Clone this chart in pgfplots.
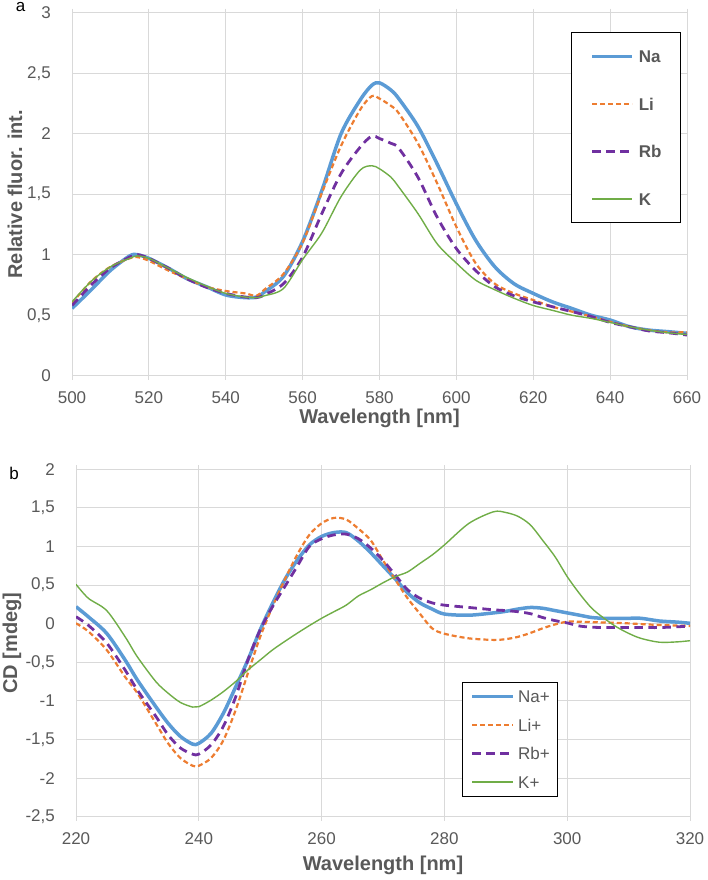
\documentclass[border=0pt]{standalone}
\usepackage{pgfplots}
\pgfplotsset{compat=1.18}
\usepackage{pgfplotstable}
\usepackage{fontspec}
\setmainfont{Liberation Sans}
\definecolor{cna}{HTML}{5B9BD5}
\definecolor{cli}{HTML}{ED7D31}
\definecolor{crb}{HTML}{7030A0}
\definecolor{ck}{HTML}{70AD47}
\definecolor{txt}{HTML}{595959}
\definecolor{grd}{HTML}{D9D9D9}

\pgfplotstableread{
x Na Li Rb K
500 0.556 0.60 0.58 0.61
505 0.71 0.78 0.75 0.78
510 0.87 0.90 0.89 0.90
515 0.99 0.97 0.98 0.97
517 1.00 0.98 1.00 0.99
520 0.97 0.95 0.97 0.97
525 0.89 0.87 0.89 0.89
530 0.80 0.80 0.80 0.81
535 0.735 0.735 0.73 0.74
540 0.667 0.70 0.68 0.68
545 0.645 0.68 0.65 0.65
548 0.65 0.66 0.645 0.645
550 0.69 0.71 0.667 0.66
555 0.82 0.84 0.76 0.72
560 1.11 1.10 0.98 0.96
565 1.53 1.51 1.34 1.18
570 2.00 1.90 1.67 1.48
575 2.28 2.20 1.89 1.70
578 2.40 2.31 1.98 1.735
580 2.42 2.29 1.96 1.71
583 2.36 2.23 1.92 1.64
585 2.29 2.17 1.88 1.56
590 2.06 1.92 1.64 1.34
595 1.75 1.59 1.31 1.09
600 1.42 1.23 1.05 0.93
605 1.12 0.93 0.87 0.79
610 0.90 0.76 0.735 0.71
615 0.76 0.68 0.66 0.64
620 0.68 0.625 0.61 0.58
625 0.61 0.57 0.57 0.54
630 0.556 0.53 0.53 0.50
635 0.50 0.49 0.49 0.474
640 0.46 0.446 0.44 0.44
645 0.405 0.405 0.405 0.405
650 0.377 0.377 0.37 0.377
655 0.364 0.358 0.355 0.355
660 0.35 0.36 0.336 0.34
}\fluor

\pgfplotstableread{
x Na Li Rb K
220 0.22 0.005 0.09 0.51
222 0.09 -0.10 -0.02 0.33
225 -0.125 -0.34 -0.25 0.17
228 -0.47 -0.69 -0.60 -0.17
230 -0.73 -0.90 -0.86 -0.43
233 -1.075 -1.29 -1.20 -0.75
235 -1.29 -1.55 -1.44 -0.90
237 -1.46 -1.74 -1.61 -1.02
239 -1.56 -1.84 -1.69 -1.08
240 -1.55 -1.84 -1.69 -1.075
242 -1.42 -1.74 -1.57 -0.99
244 -1.16 -1.51 -1.33 -0.88
246 -0.82 -1.12 -0.95 -0.75
248 -0.47 -0.64 -0.47 -0.60
250 -0.08 -0.17 -0.08 -0.47
252 0.26 0.22 0.22 -0.34
254 0.57 0.57 0.48 -0.23
256 0.82 0.89 0.74 -0.125
258 1.02 1.15 1.00 -0.025
260 1.13 1.30 1.10 0.07
262 1.18 1.37 1.15 0.155
264 1.18 1.35 1.16 0.24
266 1.07 1.23 1.10 0.36
268 0.92 1.08 0.98 0.44
270 0.75 0.82 0.82 0.53
272 0.58 0.57 0.63 0.61
274 0.40 0.33 0.44 0.67
276 0.27 0.13 0.33 0.78
278 0.19 -0.06 0.27 0.89
280 0.125 -0.13 0.24 1.02
284 0.11 -0.19 0.21 1.30
288 0.14 -0.21 0.18 1.45
290 0.16 -0.20 0.17 1.44
292 0.19 -0.17 0.155 1.39
294 0.21 -0.12 0.13 1.28
296 0.20 -0.06 0.08 1.08
298 0.17 -0.01 0.04 0.87
300 0.14 0.026 0.01 0.61
302 0.11 0.025 -0.03 0.39
304 0.08 0.02 -0.045 0.20
306 0.07 0.015 -0.05 0.07
308 0.07 0.01 -0.05 -0.04
310 0.07 0.004 -0.05 -0.125
312 0.07 -0.005 -0.05 -0.19
315 0.035 -0.017 -0.05 -0.24
318 0.02 -0.025 -0.04 -0.235
320 0.005 -0.03 -0.03 -0.22
}\cd

\pgfplotsset{
  common/.style={
    scale only axis, anchor=south west,
    axis line style={grd, line width=0.8bp},
    grid=major, major grid style={grd, line width=0.8bp},
    tick align=outside, major tick length=4bp,
    xtick style={grd, line width=0.8bp}, ytick style={draw=none},
    tick label style={font=\fontsize{17bp}{20bp}\selectfont, text=txt},
    yticklabel style={anchor=east, inner sep=0pt, xshift=-17bp},
    xticklabel style={anchor=north, inner sep=0pt, yshift=-12bp},
    label style={font=\bfseries\fontsize{20bp}{24bp}\selectfont, text=txt},
    legend cell align=left,
  },
  sna/.style={cna, line width=3.5bp, smooth},
  sli/.style={cli, line width=2.2bp, dash pattern=on 5bp off 3bp, smooth},
  srb/.style={crb, line width=2.8bp, dash pattern=on 8.5bp off 5.5bp, smooth},
  sk/.style={ck, line width=1.4bp, smooth},
}

\begin{document}
\begin{tikzpicture}[x=1bp,y=1bp]
\useasboundingbox (0,0) rectangle (708,880);

\begin{axis}[common,
  at={(72bp,504.3bp)}, width=615bp, height=363bp,
  xmin=500, xmax=660, ymin=0, ymax=3,
  xtick={500,520,...,660},
  xticklabels={500,520,540,560,580,600,620,640,660},
  ytick={0,0.5,...,3},
  yticklabels={0,{0,5},1,{1,5},2,{2,5},3},
  xlabel={Wavelength [nm]},
  ylabel={Relative fluor. int.},
  xlabel style={at={(axis description cs:0.5,-0.1165)}, anchor=center},
  ylabel style={at={(axis description cs:-0.0927,0.5)}, anchor=center},
  legend image code/.code={\draw[#1] (0bp,0bp) -- (40bp,0bp);},
  legend style={at={(rel axis cs:0.811,0.946)}, anchor=north west,
    draw=black, line width=1bp, fill=white,
    inner xsep=19bp, inner ysep=17.5bp,
    /tikz/row sep=35bp, /tikz/column sep=5bp,
    nodes={inner sep=0pt, text height=12.5bp, text depth=0pt,
      font=\bfseries\fontsize{17bp}{20bp}\selectfont, text=txt}},
]
\addplot[sna] table[x=x, y=Na] {\fluor};
\addplot[sli] table[x=x, y=Li] {\fluor};
\addplot[srb] table[x=x, y=Rb] {\fluor};
\addplot[sk] table[x=x, y=K] {\fluor};
\legend{Na,Li,Rb,K}
\end{axis}

\begin{axis}[common,
  at={(76bp,63.3bp)}, width=614bp, height=347.4bp,
  xmin=220, xmax=320, ymin=-2.5, ymax=2,
  xtick={220,240,...,320},
  xticklabels={220,240,260,280,300,320},
  ytick={-2.5,-2,...,2},
  yticklabels={{-2,5},-2,{-1,5},-1,{-0,5},0,{0,5},1,{1,5},2},
  xlabel={Wavelength [nm]},
  ylabel={CD [mdeg]},
  xlabel style={at={(axis description cs:0.5,-0.139)}, anchor=center},
  ylabel style={at={(axis description cs:-0.1042,0.5)}, anchor=center},
  legend image code/.code={\draw[#1] (0bp,0bp) -- (41bp,0bp);},
  legend style={at={(rel axis cs:0.629,0.389)}, anchor=north west,
    draw=black, line width=1bp, fill=white,
    inner xsep=7.7bp, inner ysep=8bp,
    /tikz/row sep=16.1bp, /tikz/column sep=3.3bp,
    nodes={inner sep=0pt, text height=12.5bp, text depth=0pt,
      font=\fontsize{17bp}{20bp}\selectfont, text=txt}},
]
\addplot[sna] table[x=x, y=Na] {\cd};
\addplot[sli] table[x=x, y=Li] {\cd};
\addplot[srb] table[x=x, y=Rb] {\cd};
\addplot[sk] table[x=x, y=K] {\cd};
\legend{Na+,Li+,Rb+,K+}
\end{axis}

\node[inner sep=0pt, font=\fontsize{17bp}{20bp}\selectfont] at (20.7,872.5) {a};
\node[inner sep=0pt, font=\fontsize{17bp}{20bp}\selectfont] at (14,407) {b};
\end{tikzpicture}
\end{document}
